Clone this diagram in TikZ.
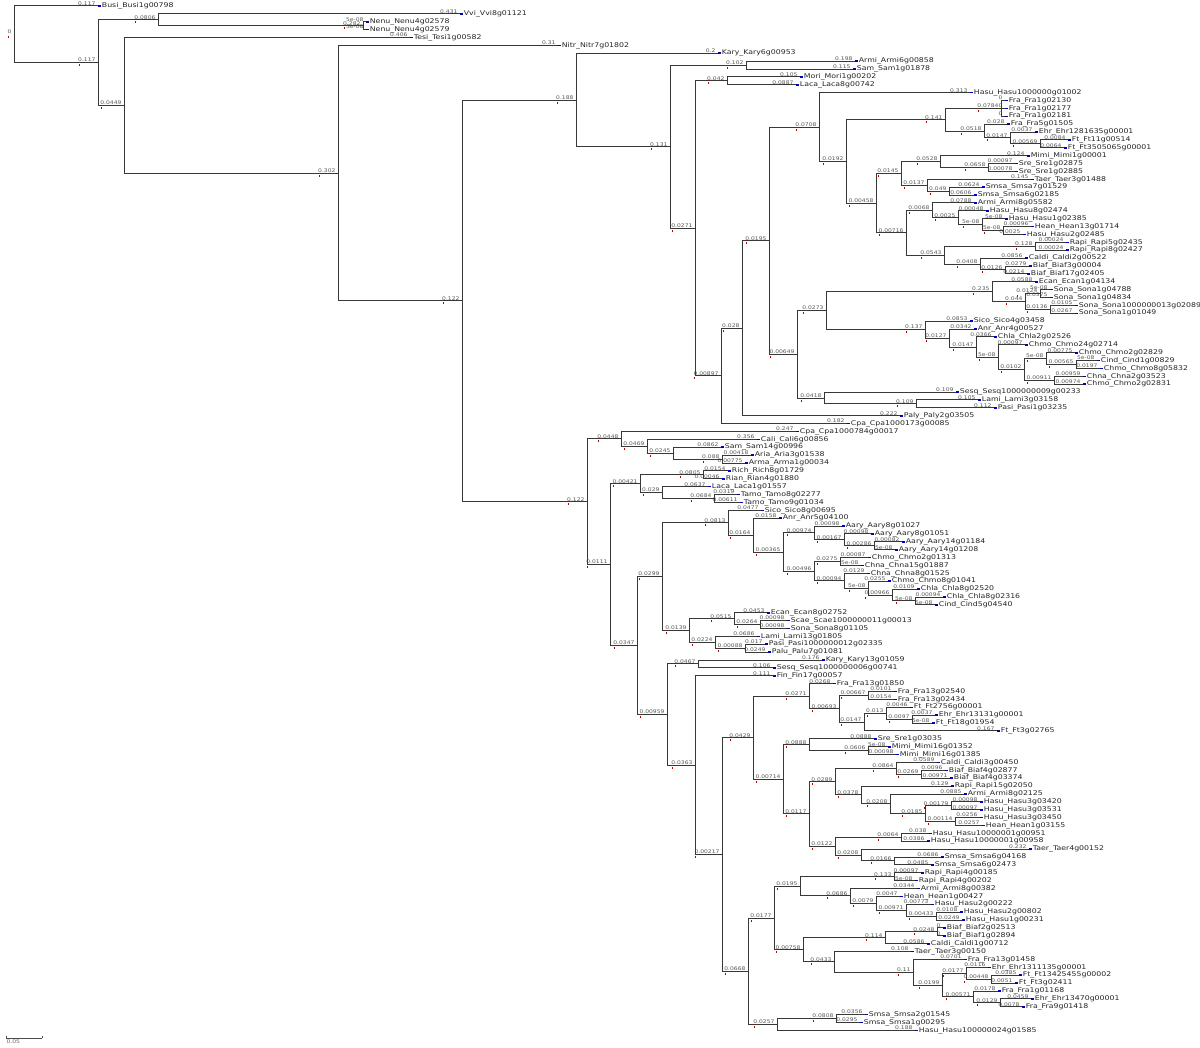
\documentclass[tikz,border=0pt]{standalone}
\usepackage{fontspec}
\setmainfont{DejaVu Sans}
\newfontfamily\leaffont[FakeStretch=1.2]{DejaVu Sans}
\usetikzlibrary{calc,positioning}

\tikzset{
  branch/.style={draw=black!78, line width=1pt},
  taxon/.style={anchor=west, inner sep=0.3pt, text=black!85, font=\fontsize{6.5}{7}\leaffont},
  blen/.style={anchor=south east, xshift=-2pt, inner sep=0.4pt, text=black!65, font=\fontsize{5}{5}\leaffont},
  tipmark/.style={anchor=west, fill=blue!75!black, minimum width=3pt, minimum height=1.6pt, inner sep=0pt},
  nodemark/.style={fill=red!75!black, minimum width=1pt, minimum height=2pt, inner sep=0pt},
}

\begin{document}
\begin{tikzpicture}[x=1pt,y=-1pt]
    \fill[white] (0,0) rectangle (1200,1048);
    \useasboundingbox (0,0) rectangle (1200,1048);

    % Leaves
    \foreach \i/\xp/\bl/\txt in {
      1/98/0.117/Busi\_Busi1g00798, 2/460/0.431/Vvi\_Vvi8g01121,
      3/366/5e-08/Nenu\_Nenu4g02578, 4/366/5e-08/Nenu\_Nenu4g02579,
      5/410/0.406/Tesi\_Tesi1g00582, 6/558/0.31/Nitr\_Nitr7g01802,
      7/718/0.2/Kary\_Kary6g00953, 8/855/0.198/Armi\_Armi6g00858,
      9/853/0.115/Sam\_Sam1g01878, 10/800/0.105/Mori\_Mori1g00202,
      11/796/0.0887/Laca\_Laca8g00742, 12/970/0.313/Hasu\_Hasu1000000g01002,
      13/1005/0/Fra\_Fra1g02130, 14/1005/0/Fra\_Fra1g02177,
      15/1005/0/Fra\_Fra1g02181, 16/1007/0.028/Fra\_Fra5g01505,
      17/1035/0.0037/Ehr\_Ehr1281635g00001, 18/1068/0.0084/Ft\_Ft11g00514,
      19/1064/0.0064/Ft\_Ft3505065g00001, 20/1027/0.124/Mimi\_Mimi1g00001,
      21/1015/0.00097/Sre\_Sre1g02875, 22/1015/0.00078/Sre\_Sre1g02885,
      23/1031/0.145/Taer\_Taer3g01488, 24/982/0.0624/Smsa\_Smsa7g01529,
      25/974/0.0606/Smsa\_Smsa6g02185, 26/974/0.0788/Armi\_Armi8g05582,
      27/986/0.00048/Hasu\_Hasu8g02474, 28/1005/5e-08/Hasu\_Hasu1g02385,
      29/1031/0.00096/Hean\_Hean13g01714, 30/1023/0.0025/Hasu\_Hasu2g02485,
      31/1066/0.00024/Rapi\_Rapi5g02435, 32/1066/0.00024/Rapi\_Rapi8g02427,
      33/1025/0.0856/Caldi\_Caldi2g00522, 34/1029/0.0279/Biaf\_Biaf3g00004,
      35/1027/0.0214/Biaf\_Biaf17g02405, 36/1035/0.0588/Ecan\_Ecan1g04134,
      37/1050/5e-08/Sona\_Sona1g04788, 38/1050/0.0375/Sona\_Sona1g04834,
      39/1075/0.0105/Sona\_Sona1000000013g02089, 40/1075/0.0267/Sona\_Sona1g01049,
      41/970/0.0853/Sico\_Sico4g03458, 42/974/0.0342/Anr\_Anr4g00527,
      43/994/0.0366/Chla\_Chla2g02526, 44/1025/0.00097/Chmo\_Chmo24g02714,
      45/1075/0.00775/Chmo\_Chmo2g02829, 46/1097/5e-08/Cind\_Cind1g00829,
      47/1100/0.0197/Chmo\_Chmo8g05832, 48/1083/0.00959/Chna\_Chna2g03523,
      49/1083/0.00974/Chmo\_Chmo2g02831, 50/956/0.109/Sesq\_Sesq1000000009g00233,
      51/978/0.105/Lami\_Lami3g03158, 52/994/0.112/Pasi\_Pasi1g03235,
      53/900/0.222/Paly\_Paly2g03505, 54/847/0.182/Cpa\_Cpa1000173g00085,
      55/796/0.247/Cpa\_Cpa1000784g00017, 56/757/0.356/Cali\_Cali6g00856,
      57/721/0.0862/Sam\_Sam14g00996, 58/751/0.00418/Aria\_Aria3g01538,
      59/745/0.00775/Arma\_Arma1g00034, 60/728/0.0154/Rich\_Rich8g01729,
      61/722/0.00046/Rian\_Rian4g01880, 62/708/0.0637/Laca\_Laca1g01557,
      63/737/0.0319/Tamo\_Tamo8g02277, 64/740/0.00611/Tamo\_Tamo9g01034,
      65/761/0.0477/Sico\_Sico8g00695, 66/779/0.0158/Anr\_Anr5g04100,
      67/842/0.00098/Aary\_Aary8g01027, 68/871/0.00098/Aary\_Aary8g01051,
      69/902/0.00082/Aary\_Aary14g01184, 70/895/5e-08/Aary\_Aary14g01208,
      71/868/0.00087/Chmo\_Chmo2g01313, 72/861/5e-08/Chna\_Chna15g01887,
      73/867/0.0129/Chna\_Chna8g01525, 74/888/0.0255/Chmo\_Chmo8g01041,
      75/917/0.0109/Chla\_Chla8g02520, 76/943/0.00094/Chla\_Chla8g02316,
      77/935/5e-08/Cind\_Cind5g04540, 78/767/0.0453/Ecan\_Ecan8g02752,
      79/787/0.00098/Scae\_Scae1000000011g00013, 80/787/0.00098/Sona\_Sona8g01105,
      81/757/0.0686/Lami\_Lami13g01805, 82/765/0.017/Pasi\_Pasi1000000012g02335,
      83/768/0.0249/Palu\_Palu7g01081, 84/822/0.176/Kary\_Kary13g01059,
      85/773/0.106/Sesq\_Sesq1000000006g00741, 86/773/0.111/Fin\_Fin17g00057,
      87/833/0.0268/Fra\_Fra13g01850, 88/894/0.0101/Fra\_Fra13g02540,
      89/894/0.0154/Fra\_Fra13g02434, 90/910/0.0046/Ft\_Ft2756g00001,
      91/935/0.0037/Ehr\_Ehr13131g00001, 92/932/5e-08/Ft\_Ft18g01954,
      93/997/0.167/Ft\_Ft3g02765, 94/874/0.0888/Sre\_Sre1g03035,
      95/888/5e-08/Mimi\_Mimi16g01352, 96/896/0.00098/Mimi\_Mimi16g01385,
      97/937/0.0589/Caldi\_Caldi3g00450, 98/945/0.0096/Biaf\_Biaf4g02877,
      99/950/0.00971/Biaf\_Biaf4g03374, 100/951/0.129/Rapi\_Rapi15g02050,
      101/964/0.0885/Armi\_Armi8g02125, 102/980/0.00098/Hasu\_Hasu3g03420,
      103/980/0.00097/Hasu\_Hasu3g03531, 104/980/0.0256/Hasu\_Hasu3g03450,
      105/982/0.0257/Hean\_Hean1g03155, 106/929/0.038/Hasu\_Hasu10000001g00951,
      107/927/0.0386/Hasu\_Hasu10000001g00958, 108/1029/0.232/Taer\_Taer4g00152,
      109/941/0.0686/Smsa\_Smsa6g04168, 110/931/0.0485/Smsa\_Smsa6g02473,
      111/921/0.00097/Rapi\_Rapi4g00185, 112/915/5e-08/Rapi\_Rapi4g00202,
      113/917/0.0344/Armi\_Armi8g00382, 114/900/0.0047/Hean\_Hean1g00427,
      115/931/0.00773/Hasu\_Hasu2g00222, 116/960/0.0108/Hasu\_Hasu2g00802,
      117/962/0.0249/Hasu\_Hasu1g00231, 118/943/0/Biaf\_Biaf2g02513,
      119/943/0/Biaf\_Biaf1g02894, 120/927/0.0586/Caldi\_Caldi1g00712,
      121/911/0.108/Taer\_Taer3g00150, 122/964/0.0701/Fra\_Fra13g01458,
      123/988/0.0116/Ehr\_Ehr1311135g00001, 124/1019/0.0385/Ft\_Ft13425455g00002,
      125/1015/0.0051/Ft\_Ft3g02411, 126/998/0.0178/Fra\_Fra1g01168,
      127/1031/0.0459/Ehr\_Ehr13470g00001, 128/1022/0.0078/Fra\_Fra9g01418,
      129/865/0.0356/Smsa\_Smsa2g01545, 130/860/0.0295/Smsa\_Smsa1g00295,
      131/915/0.188/Hasu\_Hasu100000024g01585}{
      \pgfmathsetmacro\yp{6+7.88*(\i-1)}
      \coordinate (t\i) at (\xp,\yp);
      \node[tipmark] (m\i) at (t\i) {};
      \node[taxon] (n\i) at (m\i.east) {\txt};
      \node[blen] (b\i) at (t\i) {\bl};
    }

    % Inner nodes, children first
    \foreach \nm/\xp/\ca/\cb/\bl in {
      C/363/t3/t4/0.282, B/158/t2/C/0.0806,
      I/746/t8/t9/0.102, K/727/t10/t11/0.042,
      O1/1001/t13/t15/0.0784, O4/1040/t18/t19/0.00569, O3/1010/t17/O4/0.0147,
      O2/984/t16/O3/0.0518, O/945/O1/O2/0.141,
      P1b/988/t21/t22/0.0658, P1a/940/t20/P1b/0.0528, P1d/949/t24/t25/0.049,
      P1c/927/t23/P1d/0.0137, P1/901/P1a/P1c/0.0145,
      P2d/1003/t29/t30/5e-08, P2c/982/t28/P2d/5e-08, P2b/958/t27/P2c/0.0025,
      P2a/932/t26/P2b/0.0068, P2f/1035/t31/t32/0.128, P2h/1005/t34/t35/0.0126,
      P2g/980/t33/P2h/0.0408, P2e/944/P2f/P2g/0.0543, P2/906/P2a/P2e/0.00716,
      P/876/P1/P2/0.00458, N/846/O/P/0.0192, M/819/t12/N/0.0708,
      Q1c/1040/t37/t38/0.0124, Q1d/1050/t39/t40/0.0136, Q1b/1025/Q1c/Q1d/0.044,
      Q1a/992/t36/Q1b/0.235, Q1l/1076/t46/t47/0.00565, Q1j/1046/t45/Q1l/5e-08,
      Q1k/1054/t48/t49/0.00911, Q1i/1024/Q1j/Q1k/0.0102, Q1h/998/t44/Q1i/5e-08,
      Q1g/976/t43/Q1h/0.0147, Q1f/949/t42/Q1g/0.0127, Q1e/925/t41/Q1f/0.137,
      Q1/826/Q1a/Q1e/0.0273, Q2a/916/t51/t52/0.109, Q2/824/t50/Q2a/0.0418,
      Q/797/Q1/Q2/0.00649, L/769/M/Q/0.0195, R/742/L/t53/0.028,
      S/721/R/t54/0.00897, J/695/K/S/0.0271, G2/670/I/J/0.131, G/576/t7/G2/0.188,
      T3/722/t58/t59/0.088, T2/673/t57/T3/0.0245, T1/647/t56/T2/0.0469,
      T/621/t55/T1/0.0448,
      V1/703/t60/t61/0.0805, V3/714/t63/t64/0.0684, V2/662/t62/V3/0.029,
      V/640/V1/V2/0.00421,
      X7/874/t69/t70/0.00286, X6/844/t68/X7/0.00167, X4/814/t67/X6/0.00974,
      X8/840/t71/t72/0.0275, X12/915/t76/t77/5e-08, X11/892/t75/X12/0.00966,
      X10/868/t74/X11/5e-08, X9/844/t73/X10/0.00094, X5/814/X8/X9/0.00496,
      X3/783/X4/X5/0.00365, X2/753/t66/X3/0.0164, X1/728/t65/X2/0.0813,
      X16/760/t79/t80/0.0264, X14/734/t78/X16/0.0515, X17/745/t82/t83/0.00088,
      X15/715/t81/X17/0.0224, X13/689/X14/X15/0.0139, X/662/X1/X13/0.0299,
      Y1/698/t84/t85/0.0467,
      Z1c/868/t88/t89/0.00667, Z1f/912/t91/t92/0.0097, Z1e/886/t90/Z1f/0.013,
      Z1d/864/Z1e/t93/0.0147, Z1b/839/Z1c/Z1d/0.00693, Z1a/809/t87/Z1b/0.0271,
      Z2b/868/t95/t96/0.0606, Z2a/809/t94/Z2b/0.0888, Z2g/921/t98/t99/0.0269,
      Z2e/896/t97/Z2g/0.0864, Z2j/951/t102/t103/0.00179, Z2k/955/t104/t105/0.00114,
      Z2i/925/Z2j/Z2k/0.0185, Z2h/890/t101/Z2i/0.0208, Z2f/861/t100/Z2h/0.0378,
      Z2d/835/Z2e/Z2f/0.0289, Z2m/901/t106/t107/0.0064, Z2o/894/t109/t110/0.0166,
      Z2n/861/t108/Z2o/0.0208, Z2l/835/Z2m/Z2n/0.0122, Z2c/809/Z2d/Z2l/0.0117,
      Z2/783/Z2a/Z2c/0.00714, Z1/753/Z1a/Z2/0.0429,
      Z4b/894/t111/t112/0.133, Z4f/936/t116/t117/0.00433, Z4e/906/t115/Z4f/0.00971,
      Z4d/876/t114/Z4e/0.0079, Z4c/850/t113/Z4d/0.0686, Z4a/800/Z4b/Z4c/0.0195,
      Z5b/937/t118/t119/0.0248, Z5a/885/Z5b/t120/0.114, Z5g/991/t124/t125/0.00448,
      Z5f/966/t123/Z5g/0.0177, Z5i/1000/t127/t128/0.0129, Z5h/973/t126/Z5i/0.00571,
      Z5e/942/Z5f/Z5h/0.0199, Z5d/913/t122/Z5e/0.11, Z5c/834/t121/Z5d/0.0433,
      Z5/803/Z5a/Z5c/0.00758, Z4/774/Z4a/Z5/0.0177,
      Z6a/836/t129/t130/0.0808, Z6/777/Z6a/t131/0.0257, Z3/748/Z4/Z6/0.0668,
      Z/722/Z1/Z3/0.00217, Y2/695/t86/Z/0.0363, Y/667/Y1/Y2/0.00959,
      W/637/X/Y/0.0347, U/610/V/W/0.0111, H/587/T/U/0.122,
      F/462/G/H/0.122, E/338/t6/F/0.302, D/124/t5/E/0.0449, A/98/B/D/0.117,
      root/14/t1/A/0}{
      \path let \p1=($(\ca)!0.5!(\cb)$) in (\xp pt,\y1) coordinate (\nm);
      \node[blen] (b\nm) at (\nm) {\bl};
      \node[nodemark] (r\nm) at ([xshift=2pt,yshift=-2.5pt]b\nm.south west) {};
    }

    % Branches
    \foreach \pa/\ch in {
      root/t1, root/A, A/B, A/D, B/t2, B/C, C/t3, C/t4, D/t5, D/E, E/t6, E/F,
      F/G, F/H, G/t7, G/G2, G2/I, G2/J, I/t8, I/t9, J/K, J/S, K/t10, K/t11,
      S/R, S/t54, R/L, R/t53, L/M, L/Q, M/t12, M/N, N/O, N/P, O/O1, O/O2,
      O1/t13, O1/t14, O1/t15, O2/t16, O2/O3, O3/t17, O3/O4, O4/t18, O4/t19,
      P/P1, P/P2, P1/P1a, P1/P1c, P1a/t20, P1a/P1b, P1b/t21, P1b/t22,
      P1c/t23, P1c/P1d, P1d/t24, P1d/t25, P2/P2a, P2/P2e, P2a/t26, P2a/P2b,
      P2b/t27, P2b/P2c, P2c/t28, P2c/P2d, P2d/t29, P2d/t30, P2e/P2f, P2e/P2g,
      P2f/t31, P2f/t32, P2g/t33, P2g/P2h, P2h/t34, P2h/t35,
      Q/Q1, Q/Q2, Q1/Q1a, Q1/Q1e, Q1a/t36, Q1a/Q1b, Q1b/Q1c, Q1b/Q1d,
      Q1c/t37, Q1c/t38, Q1d/t39, Q1d/t40, Q1e/t41, Q1e/Q1f, Q1f/t42, Q1f/Q1g,
      Q1g/t43, Q1g/Q1h, Q1h/t44, Q1h/Q1i, Q1i/Q1j, Q1i/Q1k, Q1j/t45, Q1j/Q1l,
      Q1l/t46, Q1l/t47, Q1k/t48, Q1k/t49, Q2/t50, Q2/Q2a, Q2a/t51, Q2a/t52,
      H/T, H/U, T/t55, T/T1, T1/t56, T1/T2, T2/t57, T2/T3, T3/t58, T3/t59,
      U/V, U/W, V/V1, V/V2, V1/t60, V1/t61, V2/t62, V2/V3, V3/t63, V3/t64,
      W/X, W/Y, X/X1, X/X13, X1/t65, X1/X2, X2/t66, X2/X3, X3/X4, X3/X5,
      X4/t67, X4/X6, X6/t68, X6/X7, X7/t69, X7/t70, X5/X8, X5/X9, X8/t71,
      X8/t72, X9/t73, X9/X10, X10/t74, X10/X11, X11/t75, X11/X12, X12/t76,
      X12/t77, X13/X14, X13/X15, X14/t78, X14/X16, X16/t79, X16/t80,
      X15/t81, X15/X17, X17/t82, X17/t83, Y/Y1, Y/Y2, Y1/t84, Y1/t85,
      Y2/t86, Y2/Z, Z/Z1, Z/Z3, Z1/Z1a, Z1/Z2, Z1a/t87, Z1a/Z1b, Z1b/Z1c,
      Z1b/Z1d, Z1c/t88, Z1c/t89, Z1d/Z1e, Z1d/t93, Z1e/t90, Z1e/Z1f,
      Z1f/t91, Z1f/t92, Z2/Z2a, Z2/Z2c, Z2a/t94, Z2a/Z2b, Z2b/t95, Z2b/t96,
      Z2c/Z2d, Z2c/Z2l, Z2d/Z2e, Z2d/Z2f, Z2e/t97, Z2e/Z2g, Z2g/t98, Z2g/t99,
      Z2f/t100, Z2f/Z2h, Z2h/t101, Z2h/Z2i, Z2i/Z2j, Z2i/Z2k, Z2j/t102,
      Z2j/t103, Z2k/t104, Z2k/t105, Z2l/Z2m, Z2l/Z2n, Z2m/t106, Z2m/t107,
      Z2n/t108, Z2n/Z2o, Z2o/t109, Z2o/t110, Z3/Z4, Z3/Z6, Z4/Z4a, Z4/Z5,
      Z4a/Z4b, Z4a/Z4c, Z4b/t111, Z4b/t112, Z4c/t113, Z4c/Z4d, Z4d/t114,
      Z4d/Z4e, Z4e/t115, Z4e/Z4f, Z4f/t116, Z4f/t117, Z5/Z5a, Z5/Z5c,
      Z5a/Z5b, Z5a/t120, Z5b/t118, Z5b/t119, Z5c/t121, Z5c/Z5d, Z5d/t122,
      Z5d/Z5e, Z5e/Z5f, Z5e/Z5h, Z5f/t123, Z5f/Z5g, Z5g/t124, Z5g/t125,
      Z5h/t126, Z5h/Z5i, Z5i/t127, Z5i/t128, Z6/Z6a, Z6/t131, Z6a/t129,
      Z6a/t130}{
      \draw[branch] (\pa) |- (\ch);
    }

    % Scale bar
    \coordinate (sbl) at (6,1038);
    \coordinate (sbr) at (42,1038);
    \draw[black!70, line width=0.5pt] (sbl) -- (sbr);
    \draw[black!70, line width=0.5pt] (sbl) -- ++(0,-2);
    \draw[black!70, line width=0.5pt] (sbr) -- ++(0,-2);
    \node[anchor=north west, inner sep=0.4pt, text=black!60, font=\fontsize{5}{5}\leaffont] (sblab) at ([yshift=-1pt]sbl) {0.05};
\end{tikzpicture}
\end{document}
